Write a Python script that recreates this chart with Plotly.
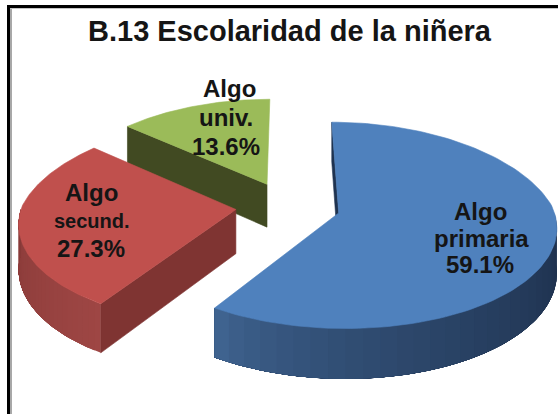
import numpy as np
import plotly.graph_objects as go

# ---- data ----
title = "B.13 Escolaridad de la niñera"
categories = ["Algo primaria", "Algo secund.", "Algo univ."]
values = [59.1, 27.3, 13.6]
top_colors = ["#4f81bd", "#c0504d", "#9bbb59"]
cut_colors = ["#1f3350", "#7f3432", "#414a22"]
wall_left = [(66, 104, 150), (136, 58, 56), (90, 105, 50)]
wall_right = [(28, 46, 74), (158, 70, 68), (70, 85, 40)]

# ---- projection of the tilted, exploded pie ----
CX, CY = 288.0, 206.0
RX, RY = 214.0, 100.0
PERSP = 0.119
PERSP_BACK_X = 0.16
EXPLODE = 0.245
DEPTH = 44.0


def project(u, v, drop=0.0):
    u, v = np.asarray(u, float), np.asarray(v, float)
    s = 1.0 / (1.0 - PERSP * v)
    sx = np.where(v < 0, 1.0 / (1.0 - PERSP_BACK_X * v), s)
    return CX + RX * u * sx, CY + RY * v * s + drop * DEPTH * s


def slice_points(a0, a1, bis, n=120):
    a = np.radians(np.linspace(a0, a1, n))
    ou, ov = EXPLODE * np.sin(bis), -EXPLODE * np.cos(bis)
    return ou + np.sin(a), ov - np.cos(a), ou, ov


def to_hex(c):
    return "#%02x%02x%02x" % tuple(int(round(x)) for x in c)


def poly(fig, xs, ys, color, width=0.6):
    fig.add_trace(go.Scatter(
        x=list(xs), y=list(ys), mode="lines", fill="toself", fillcolor=color,
        line=dict(color=color, width=width), hoverinfo="skip", showlegend=False))


total = sum(values)
edges = np.concatenate([[0.0], np.cumsum(values)]) / total * 360.0
spans = list(zip(edges[:-1], edges[1:]))


def add_cut(fig, idx, angle):
    a0, a1 = spans[idx]
    bis = np.radians((a0 + a1) / 2)
    ou, ov = EXPLODE * np.sin(bis), -EXPLODE * np.cos(bis)
    t = np.radians(angle)
    eu, ev = ou + np.sin(t), ov - np.cos(t)
    x1, y1 = project(ou, ov)
    x2, y2 = project(eu, ev)
    x3, y3 = project(eu, ev, 1)
    x4, y4 = project(ou, ov, 1)
    poly(fig, [x1, x2, x3, x4, x1], [y1, y2, y3, y4, y1], cut_colors[idx])


def add_wall(fig, idx, strips=30, curve=1.0):
    a0, a1 = spans[idx]
    bis = np.radians((a0 + a1) / 2)
    # Only the part of the rim that faces the viewer is visible
    lo, hi = max(a0, 90.0), min(a1, 270.0)
    if hi <= lo:
        return
    grid = np.linspace(lo, hi, strips + 1)
    ou, ov = EXPLODE * np.sin(bis), -EXPLODE * np.cos(bis)
    for k in range(strips):
        # every strip runs on to the far end, so the next one paints over its edge
        a = np.radians(np.linspace(grid[k], hi, 60))
        u, v = ou + np.sin(a), ov - np.cos(a)
        xt, yt = project(u, v)
        xb, yb = project(u, v, 1)
        f = (1 - (k + 0.5) / strips) ** curve
        c = np.array(wall_left[idx]) * (1 - f) + np.array(wall_right[idx]) * f
        poly(fig, np.r_[xt, xb[::-1], xt[0]], np.r_[yt, yb[::-1], yt[0]], to_hex(c), width=0)


def add_top(fig, idx):
    a0, a1 = spans[idx]
    u, v, ou, ov = slice_points(a0, a1, np.radians((a0 + a1) / 2))
    x, y = project(u, v)
    ax, ay = project(ou, ov)
    poly(fig, np.r_[ax, x, ax], np.r_[ay, y, ay], top_colors[idx])


fig = go.Figure()
add_cut(fig, 2, spans[2][0])
add_top(fig, 2)
add_cut(fig, 0, spans[0][0])
add_wall(fig, 0, curve=0.6)
add_wall(fig, 1)
add_cut(fig, 1, spans[1][0])
add_top(fig, 1)
add_top(fig, 0)

# ---- labels (one annotation per line) ----
FONT = "Liberation Sans"
lines = [
    ("Algo", 229, 88, 24), ("univ.", 226, 117, 24), ("13.6%", 226, 146, 24),
    ("Algo", 91, 192, 24), ("secund.", 92, 221, 20), ("27.3%", 91, 248, 24),
    ("Algo", 480, 211, 24), ("primaria", 481, 238, 24), ("59.1%", 480, 264, 24),
]
annotations = [dict(x=x, y=y, text=f"<b>{t}</b>", showarrow=False, xanchor="center",
                    yanchor="middle", font=dict(family=FONT, size=s, color="#151515"))
               for t, x, y, s in lines]
annotations.append(dict(x=289.5, y=31, text=f"<b>{title}</b>", showarrow=False, xanchor="center",
                        yanchor="middle", font=dict(family=FONT, size=29, color="#151515")))

shapes = [
    dict(type="line", x0=8.5, x1=8.5, y0=5, y1=414, line=dict(color="#000000", width=3)),
    dict(type="line", x0=7, x1=558, y0=6.5, y1=6.5, line=dict(color="#000000", width=3)),
    dict(type="line", x0=11, x1=11, y0=8, y1=414, line=dict(color="#a8a8a8", width=2)),
    dict(type="line", x0=10, x1=558, y0=8.5, y1=8.5, line=dict(color="#c4c4c4", width=1)),
]

fig.update_layout(
    width=558, height=414, margin=dict(l=0, r=0, t=0, b=0),
    paper_bgcolor="white", plot_bgcolor="white", showlegend=False,
    xaxis=dict(range=[0, 558], visible=False, fixedrange=True),
    yaxis=dict(range=[414, 0], visible=False, fixedrange=True),
    annotations=annotations, shapes=shapes,
)
fig.write_html("out.html", config={"displayModeBar": False},
               post_script="document.body.style.margin='0';document.body.style.overflow='hidden';")
